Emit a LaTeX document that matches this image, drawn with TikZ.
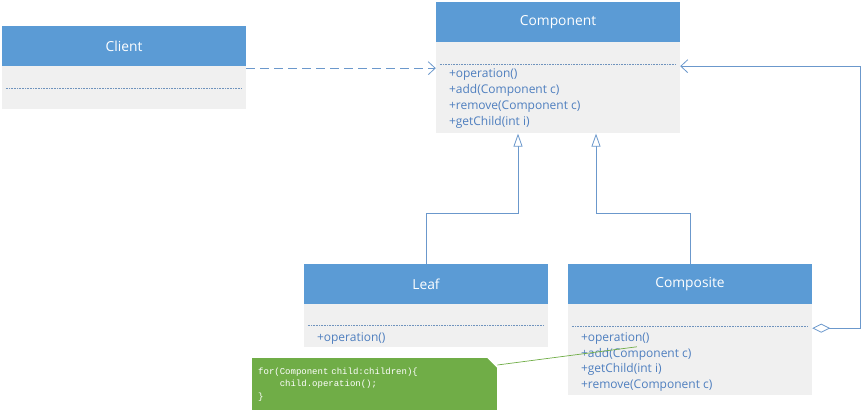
\documentclass[tikz,border=0pt]{standalone}
\usepackage{fontspec}
\setmainfont{Open Sans}
\setmonofont{Liberation Mono}
\usetikzlibrary{positioning,arrows.meta,calc}
\definecolor{umlblue}{HTML}{5B9BD5}
\definecolor{umlgray}{HTML}{F0F0F0}
\definecolor{umlline}{HTML}{6B98CC}
\definecolor{umltext}{HTML}{4F7FBF}
\definecolor{notegreen}{HTML}{70AD47}
\tikzset{
  head/.style={fill=umlblue, text=white, minimum width=244pt, minimum height=40pt,
    inner sep=0pt, font=\fontsize{13.8}{16}\selectfont},
  body/.style={fill=umlgray, minimum width=244pt, inner sep=0pt},
  meth/.style={text=umltext, inner sep=0pt, anchor=base west, font=\fontsize{12}{14}\selectfont},
  sep/.style={umlline!80!gray, densely dotted, line width=.6pt},
  link/.style={umlline, line width=.8pt},
  note/.style={fill=notegreen, text=white, minimum width=245pt, minimum height=52pt,
    text width=233pt, inner xsep=6pt, align=left, font=\fontsize{9}{12.5}\ttfamily},
}
\begin{document}
\begin{tikzpicture}[x=1pt, y=-1pt]
\useasboundingbox (0,0) rectangle (862,411);
% classes
\node[head] (client) at (124,46) {Client};
\node[body, minimum height=43pt, below=0pt of client] (clientb) {};
\draw[sep] ($(clientb.north west)+(4,22)$) -- ($(clientb.north east)+(-4,22)$);

\node[head] (comp) at (558,22) {Component};
\node[body, minimum height=91pt, below=0pt of comp] (compb) {};
\draw[sep] ($(compb.north west)+(4,22)$) -- ($(compb.north east)+(-4,22)$);
\foreach \m [count=\i] in {+operation(), +add(Component c), +remove(Component c), +getChild(int i)}
{
    \node[meth] (compm\i) at ($(compb.north west)+(13,19.5+16*\i)$) {\m};
}

\node[head] (leaf) at (426,284) {Leaf};
\node[body, minimum height=43pt, below=0pt of leaf] (leafb) {};
\draw[sep] ($(leafb.north west)+(4,21)$) -- ($(leafb.north east)+(-4,21)$);
\node[meth] (leafm1) at ($(leafb.north west)+(13,37.5)$) {+operation()};

\node[head] (composite) at (690,284) {Composite};
\node[body, minimum height=91pt, below=0pt of composite] (compositeb) {};
\draw[sep] ($(compositeb.north west)+(4,22)$) -- ($(compositeb.north east)+(-4,22)$);
\foreach \m [count=\i] in {+operation(), +add(Component c), +getChild(int i), +remove(Component c)}
{
    \node[meth] (compositem\i) at ($(compositeb.north west)+(13,22+15.6*\i)$) {\m};
}

% note
\node[note, anchor=north west] (note) at (252,358)
  {for(Component child:children)\{\\\phantom{xxxx}child.operation();\\\}};
\fill[white] (note.north east) -- ++(-10,0) -- ++(10,10) -- cycle;
\draw[notegreen, line width=.7pt] ($(note.north east)+(0,7)$) -- ($(compositem1.base west)+(56,5)$);

% relations
\coordinate (cl) at ($(clientb.north east)+(0,2)$);
\draw[link, dash pattern=on 9pt off 5pt, -{Straight Barb[length=7pt,width=13pt]}] (cl) -- (cl -| compb.west);
\draw[link, -{Triangle[open,length=13pt,width=9pt,fill=white]}]
  (leaf.north) -- ++(0,-50) -| ($(compb.south)+(-40,0)$);
\draw[link, -{Triangle[open,length=13pt,width=9pt,fill=white]}]
  (composite.north) -- ++(0,-50) -| ($(compb.south)+(38,0)$);
\coordinate (ag) at ($(compositeb.north east)+(0,24)$);
\draw[link, {Diamond[open,length=18pt,width=9pt,fill=white]}-{Straight Barb[length=7pt,width=13pt]}]
  (ag) -- ++(48,0) |- ($(compb.north east)+(0,24)$);
\end{tikzpicture}
\end{document}
